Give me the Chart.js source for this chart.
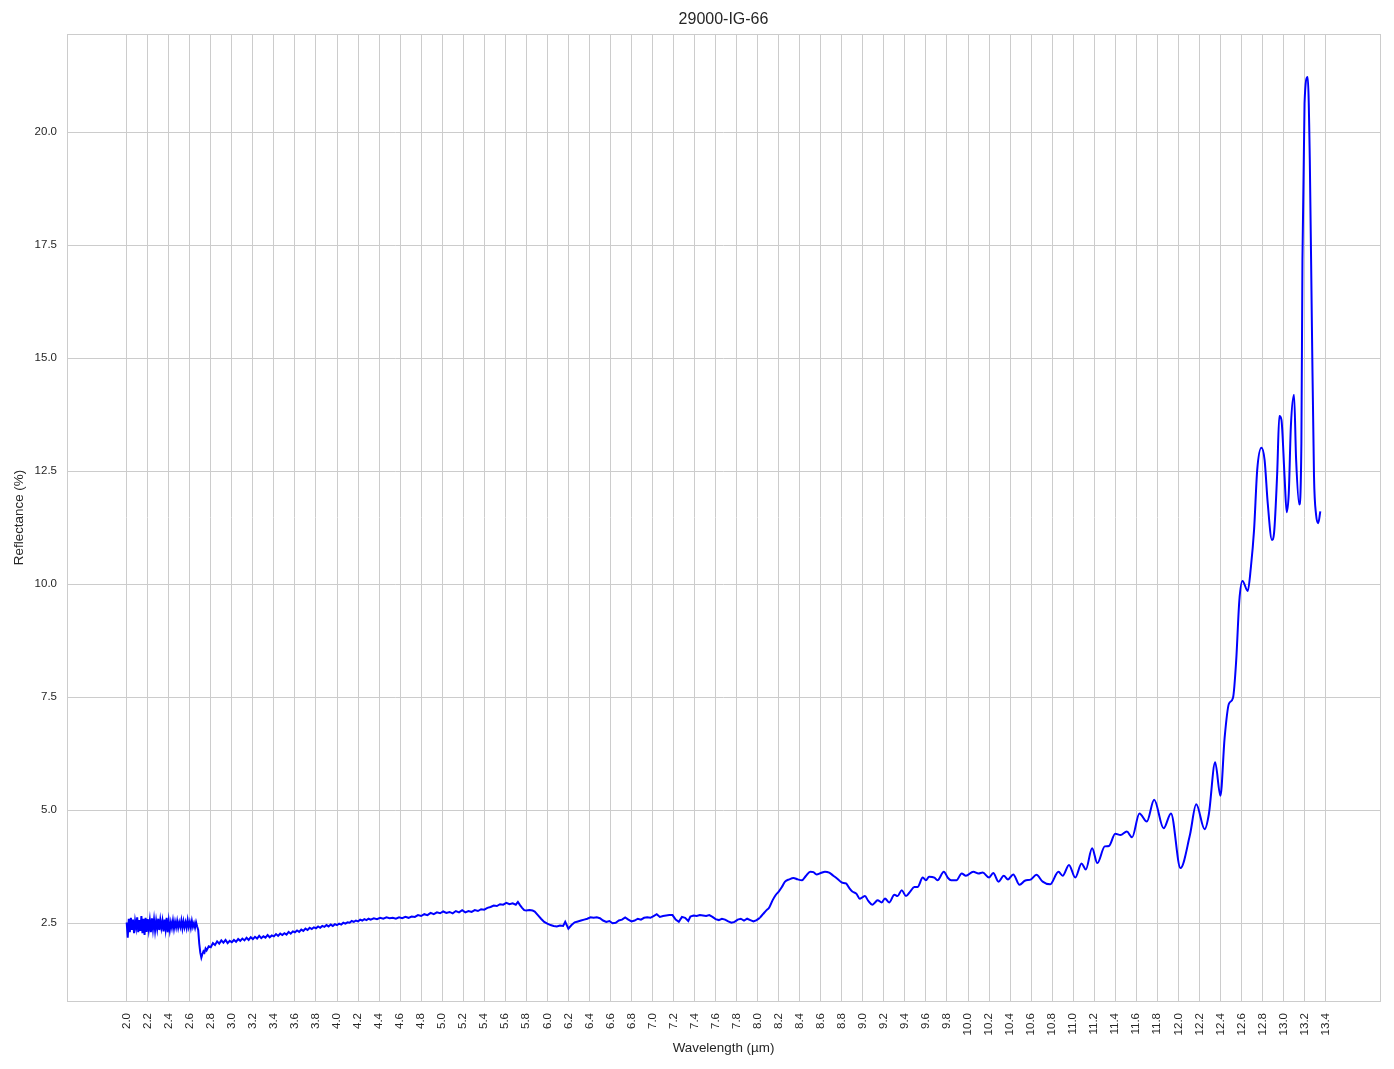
<!DOCTYPE html>
<html>
<head>
<meta charset="utf-8">
<script src="https://cdn.jsdelivr.net/npm/chart.js@4.4.1/dist/chart.umd.min.js"></script>
<style>
html,body{margin:0;padding:0;background:#ffffff;}
#wrap{width:1394px;height:1069px;}
</style>
</head>
<body>
<div id="wrap"><canvas id="c" width="1394" height="1069"></canvas></div>
<script>
const chartTitle = "29000-IG-66";
const xAxisLabel = "Wavelength (µm)";
const yAxisLabel = "Reflectance (%)";

const wavelength = [
2.00,2.01,2.02,2.03,2.04,2.05,2.06,2.07,2.08,2.09,2.10,2.11,2.12,2.13,2.14,2.15,2.16,2.17,2.18,2.19,
2.20,2.21,2.22,2.23,2.24,2.25,2.26,2.27,2.28,2.29,2.30,2.31,2.32,2.33,2.34,2.35,2.36,2.37,2.38,2.39,
2.40,2.41,2.42,2.43,2.44,2.45,2.46,2.47,2.48,2.49,2.50,2.51,2.52,2.53,2.54,2.55,2.56,2.57,2.58,2.59,
2.60,2.61,2.62,2.63,2.64,2.65,2.66,2.67,2.68,2.69,2.70,2.71,2.72,2.73,2.74,2.75,2.76,2.78,2.80,2.82,
2.84,2.86,2.88,2.90,2.92,2.94,2.96,2.98,3.00,3.02,3.04,3.06,3.08,3.10,3.12,3.14,3.16,3.18,3.20,3.22,
3.24,3.26,3.28,3.30,3.32,3.34,3.36,3.38,3.40,3.42,3.44,3.46,3.48,3.50,3.52,3.54,3.56,3.58,3.60,3.62,
3.64,3.66,3.68,3.70,3.72,3.74,3.76,3.78,3.80,3.82,3.84,3.86,3.88,3.90,3.92,3.94,3.96,3.98,4.00,4.02,
4.04,4.06,4.08,4.10,4.12,4.14,4.16,4.18,4.20,4.22,4.24,4.26,4.28,4.30,4.32,4.35,4.38,4.41,4.44,4.47,
4.50,4.53,4.56,4.59,4.62,4.65,4.68,4.71,4.74,4.77,4.80,4.83,4.86,4.89,4.92,4.95,4.98,5.01,5.04,5.07,
5.10,5.13,5.16,5.19,5.22,5.25,5.28,5.31,5.34,5.37,5.40,5.43,5.46,5.49,5.52,5.55,5.58,5.61,5.64,5.67,
5.70,5.72,5.74,5.76,5.78,5.80,5.83,5.86,5.88,5.91,5.94,5.97,6.00,6.03,6.06,6.09,6.12,6.15,6.17,6.20,
6.23,6.26,6.29,6.32,6.35,6.38,6.41,6.44,6.47,6.50,6.53,6.56,6.59,6.62,6.65,6.68,6.71,6.74,6.77,6.80,
6.83,6.86,6.89,6.92,6.95,6.98,7.01,7.04,7.07,7.10,7.13,7.16,7.19,7.22,7.25,7.28,7.31,7.34,7.36,7.39,
7.42,7.45,7.48,7.51,7.54,7.57,7.60,7.63,7.66,7.69,7.72,7.75,7.78,7.81,7.84,7.87,7.90,7.93,7.96,7.99,
8.02,8.05,8.08,8.11,8.14,8.17,8.20,8.23,8.26,8.30,8.34,8.38,8.42,8.46,8.50,8.53,8.56,8.60,8.64,8.68,
8.72,8.76,8.80,8.84,8.87,8.90,8.94,8.97,9.00,9.02,9.05,9.09,9.12,9.14,9.18,9.21,9.25,9.30,9.33,9.37,
9.41,9.45,9.49,9.52,9.57,9.60,9.63,9.68,9.71,9.77,9.81,9.84,9.89,9.94,9.98,10.05,10.10,10.14,10.20,10.24,
10.29,10.34,10.38,10.43,10.49,10.54,10.60,10.65,10.71,10.78,10.86,10.90,10.96,11.02,11.08,11.12,11.18,11.23,11.30,11.34,
11.40,11.45,11.51,11.56,11.63,11.70,11.77,11.86,11.93,12.02,12.11,12.17,12.25,12.29,12.35,12.40,12.44,12.48,12.52,12.55,
12.58,12.61,12.66,12.69,12.72,12.75,12.79,12.82,12.85,12.89,12.91,12.94,12.96,12.98,13.01,13.03,13.05,13.07,13.10,13.12,
13.15,13.17,13.18,13.20,13.23,13.25,13.27,13.29,13.31,13.33,13.35
];

const reflectance = [
2.52,2.18,2.60,2.30,2.62,2.35,2.58,2.28,2.55,2.40,2.63,2.30,2.57,2.33,2.66,2.28,2.60,2.24,2.62,2.31,
2.59,2.36,2.56,2.30,2.61,2.37,2.58,2.34,2.55,2.38,2.60,2.35,2.57,2.40,2.55,2.32,2.58,2.37,2.62,2.30,
2.55,2.35,2.52,2.40,2.56,2.38,2.53,2.41,2.55,2.40,2.52,2.42,2.56,2.39,2.54,2.41,2.52,2.40,2.57,2.42,
2.53,2.40,2.55,2.42,2.50,2.40,2.52,2.43,2.35,2.05,1.85,1.74,1.82,1.88,1.85,1.94,1.90,1.99,1.97,2.06,
2.02,2.10,2.05,2.12,2.07,2.13,2.06,2.11,2.08,2.13,2.09,2.15,2.11,2.16,2.12,2.18,2.13,2.19,2.15,2.20,
2.16,2.22,2.17,2.21,2.18,2.24,2.19,2.23,2.21,2.26,2.22,2.27,2.24,2.28,2.25,2.31,2.27,2.32,2.30,2.34,
2.31,2.36,2.33,2.38,2.35,2.40,2.37,2.41,2.39,2.43,2.40,2.44,2.42,2.46,2.43,2.47,2.44,2.48,2.46,2.49,
2.47,2.51,2.49,2.52,2.51,2.55,2.53,2.56,2.54,2.58,2.56,2.59,2.57,2.60,2.58,2.61,2.59,2.62,2.60,2.63,
2.61,2.62,2.60,2.63,2.61,2.64,2.62,2.65,2.64,2.68,2.66,2.70,2.68,2.73,2.70,2.74,2.72,2.76,2.73,2.75,
2.72,2.77,2.74,2.79,2.74,2.77,2.75,2.79,2.77,2.81,2.80,2.84,2.86,2.89,2.88,2.92,2.91,2.95,2.92,2.94,
2.91,2.97,2.90,2.84,2.79,2.78,2.79,2.78,2.76,2.68,2.60,2.53,2.49,2.46,2.44,2.43,2.45,2.44,2.53,2.38,
2.46,2.52,2.54,2.56,2.58,2.60,2.63,2.62,2.63,2.61,2.56,2.53,2.55,2.50,2.51,2.56,2.58,2.63,2.58,2.54,
2.56,2.60,2.58,2.62,2.63,2.62,2.66,2.70,2.64,2.66,2.67,2.68,2.68,2.58,2.53,2.64,2.62,2.55,2.65,2.67,
2.66,2.68,2.67,2.66,2.68,2.64,2.59,2.57,2.60,2.58,2.54,2.51,2.53,2.58,2.60,2.56,2.60,2.57,2.54,2.57,
2.62,2.70,2.78,2.85,3.00,3.12,3.20,3.30,3.42,3.47,3.50,3.47,3.45,3.55,3.64,3.63,3.58,3.61,3.64,3.62,
3.55,3.48,3.40,3.38,3.28,3.20,3.15,3.04,3.08,3.10,3.00,2.91,2.97,3.01,2.96,3.05,2.96,3.13,3.10,3.23,
3.10,3.20,3.30,3.30,3.51,3.45,3.53,3.51,3.45,3.64,3.50,3.45,3.45,3.60,3.55,3.64,3.60,3.62,3.51,3.61,
3.42,3.55,3.47,3.58,3.35,3.44,3.47,3.57,3.42,3.36,3.64,3.55,3.79,3.51,3.82,3.69,4.16,3.83,4.20,4.21,
4.48,4.45,4.53,4.40,4.93,4.75,5.23,4.60,4.93,3.72,4.45,5.13,4.58,4.91,6.06,5.32,6.60,7.35,7.49,8.31,
9.64,10.07,9.85,10.38,11.20,12.53,13.02,12.75,11.79,10.98,11.13,12.46,13.72,13.64,12.38,11.59,12.01,13.49,14.19,12.75,
11.76,13.12,17.18,20.64,21.22,19.39,15.70,12.38,11.53,11.35,11.61
];

const xTickValues = [2.0,2.2,2.4,2.6,2.8,3.0,3.2,3.4,3.6,3.8,4.0,4.2,4.4,4.6,4.8,5.0,5.2,5.4,5.6,5.8,
6.0,6.2,6.4,6.6,6.8,7.0,7.2,7.4,7.6,7.8,8.0,8.2,8.4,8.6,8.8,9.0,9.2,9.4,9.6,9.8,
10.0,10.2,10.4,10.6,10.8,11.0,11.2,11.4,11.6,11.8,12.0,12.2,12.4,12.6,12.8,13.0,13.2,13.4];
const yTickValues = [2.5,5.0,7.5,10.0,12.5,15.0,17.5,20.0];
const xRange = [1.4325, 13.9175];
const yRange = [0.78, 22.17];
const smoothFrom = 8.02;

const points = wavelength.map((w, i) => ({x: w, y: reflectance[i]}));
const rawPart = points.filter(p => p.x <= smoothFrom);
const smoothPart = points.filter(p => p.x >= smoothFrom);

const FONT = "'Liberation Sans', Arial, 'DejaVu Sans', sans-serif";
const GRID = '#cccccc';
const TXT = '#262626';

const frame = {
  id: 'frame',
  afterDraw(chart) {
    const a = chart.chartArea, ctx = chart.ctx;
    ctx.save();
    ctx.strokeStyle = GRID;
    ctx.lineWidth = 1;
    ctx.strokeRect(Math.round(a.left) + 0.5, Math.round(a.top) + 0.5, Math.round(a.right - a.left), Math.round(a.bottom - a.top));
    ctx.fillStyle = TXT;
    ctx.font = "16px " + FONT;
    ctx.textAlign = 'center';
    ctx.textBaseline = 'middle';
    ctx.fillText(chartTitle, (a.left + a.right) / 2, 20);
    ctx.restore();
  }
};

const lineStyle = {
  borderColor: '#0000ff',
  borderWidth: 2,
  pointRadius: 0,
  fill: false
};

new Chart(document.getElementById('c'), {
  type: 'line',
  data: {
    datasets: [
      Object.assign({data: rawPart, tension: 0}, lineStyle),
      Object.assign({data: smoothPart, cubicInterpolationMode: 'monotone'}, lineStyle)
    ]
  },
  options: {
    responsive: false,
    animation: false,
    devicePixelRatio: 1,
    parsing: false,
    layout: {padding: {left: 0, right: 14, top: 34, bottom: 0}},
    plugins: {
      legend: {display: false},
      tooltip: {enabled: false},
      title: {display: false}
    },
    scales: {
      x: {
        type: 'linear',
        min: xRange[0],
        max: xRange[1],
        afterBuildTicks: s => { s.ticks = xTickValues.map(v => ({value: v})); },
        afterFit: s => { s.height = 68; },
        grid: {color: GRID, lineWidth: 1, drawTicks: false},
        border: {display: false},
        ticks: {
          color: TXT,
          font: {family: FONT, size: 11.5},
          minRotation: 90, maxRotation: 90,
          autoSkip: false,
          padding: 12,
          callback: v => Number(v).toFixed(1)
        },
        title: {
          display: true, text: xAxisLabel, color: TXT,
          font: {family: FONT, size: 13.4, lineHeight: 1.2},
          padding: {top: 0, bottom: 13}
        }
      },
      y: {
        type: 'linear',
        min: yRange[0],
        max: yRange[1],
        afterBuildTicks: s => { s.ticks = yTickValues.map(v => ({value: v})); },
        afterFit: s => { s.width = 67; },
        grid: {color: GRID, lineWidth: 1, drawTicks: false},
        border: {display: false},
        ticks: {
          color: TXT,
          font: {family: FONT, size: 11.5},
          padding: 10,
          autoSkip: false,
          callback: v => Number(v).toFixed(1)
        },
        title: {
          display: true, text: yAxisLabel, color: TXT,
          font: {family: FONT, size: 13.4, lineHeight: 1.2},
          padding: {top: 11, bottom: 0}
        }
      }
    }
  },
  plugins: [frame]
});
</script>
</body>
</html>
